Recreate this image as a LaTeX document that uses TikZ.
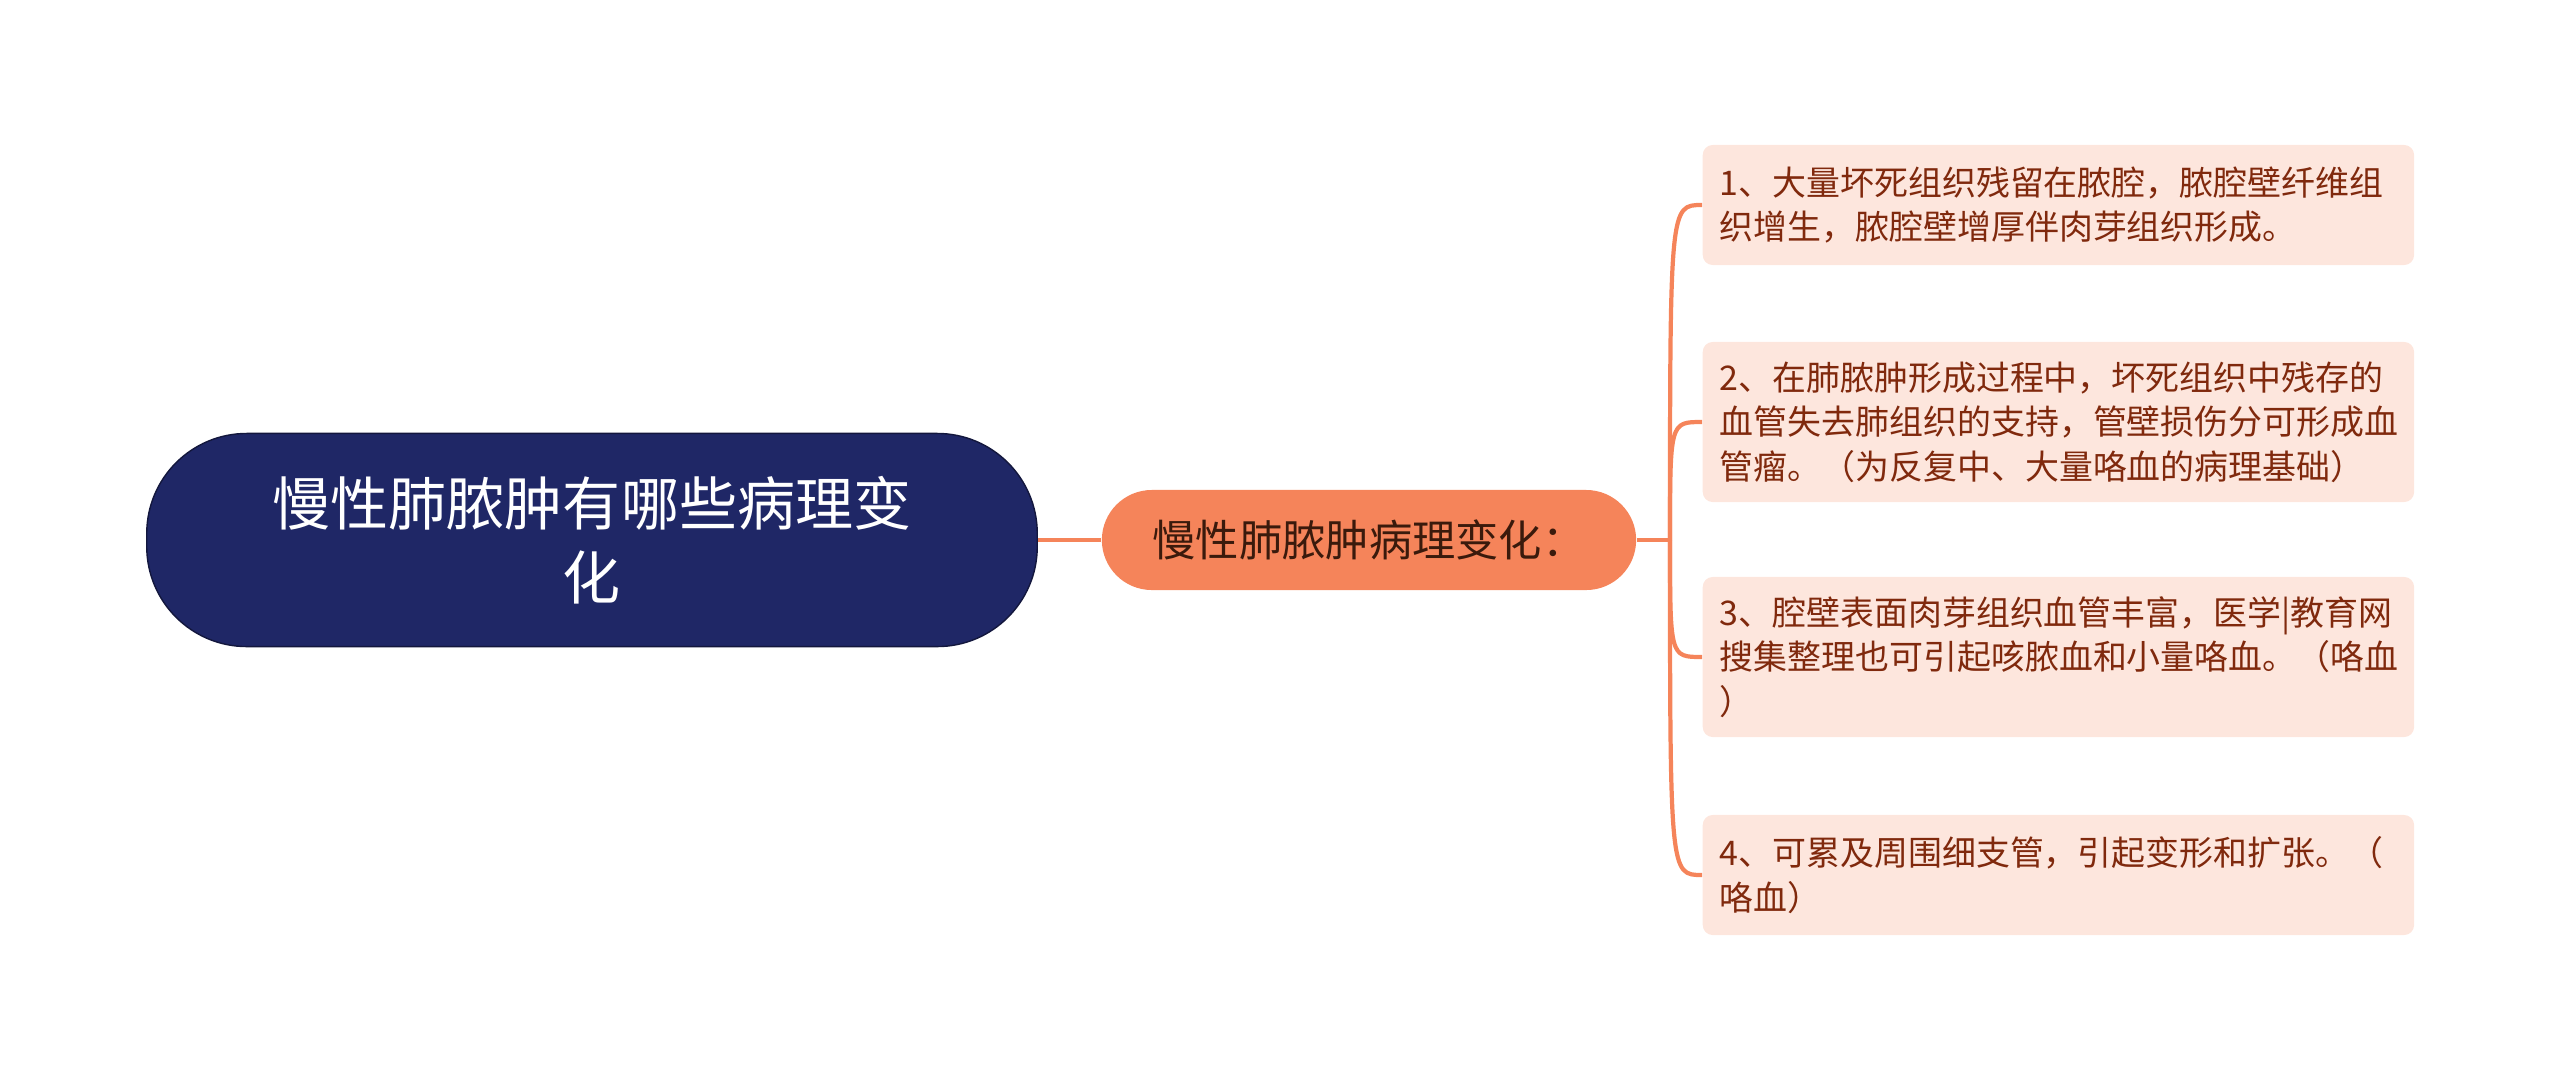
\documentclass[tikz,border=0pt]{standalone}
\usepackage{fontspec}
\setmainfont{Noto Sans CJK SC}
\definecolor{rootblue}{HTML}{1F2766}
\definecolor{midorange}{HTML}{F5845A}
\definecolor{midtext}{HTML}{3A1A0C}
\definecolor{leafpink}{HTML}{FDE6DD}
\definecolor{leaftext}{HTML}{80290D}
\begin{document}
\begin{tikzpicture}[x=0.01cm,y=-0.01cm,
  rootbox/.style={draw=rootblue!60!black, fill=rootblue, text=white, rounded corners=1cm,
    minimum width=8.9cm, minimum height=2.13cm, align=center,
    font=\fontsize{16.5}{21}\selectfont},
  midbox/.style={fill=midorange, text=midtext, rounded corners=0.5cm,
    minimum width=5.34cm, minimum height=1cm, font=\fontsize{12.3}{14}\selectfont},
  leafbox/.style={fill=leafpink, text=leaftext, rounded corners=0.1cm, inner xsep=0.17cm,
    text width=6.77cm, align=left, anchor=west, font=\fontsize{9.65}{12.6}\selectfont},
  edge/.style={draw=midorange, line width=1.2pt}]
\useasboundingbox (0,0) rectangle (2560,1081);
\node[rootbox] (root) at (592,540) {慢性肺脓肿有哪些病理变\\化};
\node[midbox] (mid) at (1369,540) {慢性肺脓肿病理变化：};
\coordinate (fork) at (1670,540);
\draw[edge] (root) -- (mid) -- (fork);
\foreach \i/\y/\h/\txt in {
  1/205/1.2/{1、大量坏死组织残留在脓腔，脓腔壁纤维组\\织增生，脓腔壁增厚伴肉芽组织形成。},
  2/422/1.6/{2、在肺脓肿形成过程中，坏死组织中残存的\\血管失去肺组织的支持，管壁损伤分可形成血\\管瘤。（为反复中、大量咯血的病理基础）},
  3/657/1.6/{3、腔壁表面肉芽组织血管丰富，医学|教育网\\搜集整理也可引起咳脓血和小量咯血。（咯血\\）},
  4/875/1.2/{4、可累及周围细支管，引起变形和扩张。（\\咯血）}}{
\node[leafbox, minimum height=\h cm] (leaf\i) at (1702,\y) {\txt};
\draw[edge] (fork) .. controls (fork |- leaf\i.west) .. (leaf\i.west);
}
\end{tikzpicture}
\end{document}
